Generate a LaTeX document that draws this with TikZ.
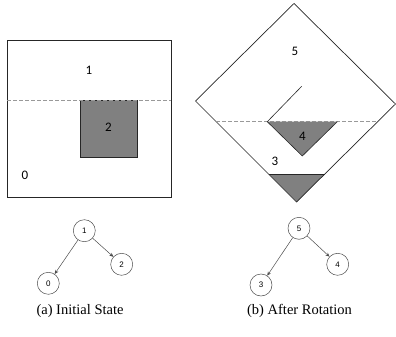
\documentclass[tikz,border=0pt]{standalone}
\usepackage{fontspec}
\setmainfont{Liberation Serif}
\newfontfamily\labfont{Carlito}
\newfontfamily\treefont{Liberation Sans}
\usetikzlibrary{arrows.meta}
\tikzset{
  region/.style={draw=black!85, line width=0.7pt},
  shade/.style={fill=black!50, draw=black!85, line width=0.6pt},
  cut/.style={draw=black!40, dash pattern=on 3.5pt off 2.5pt, line width=0.8pt},
  lab/.style={font=\labfont\fontsize{13}{13}\selectfont, inner sep=0pt},
  tnode/.style={circle, draw=black!70, line width=0.5pt, minimum size=22pt, inner sep=0pt, font=\treefont\fontsize{8}{8}\selectfont},
  tedge/.style={draw=black!70, line width=0.5pt, -{Stealth[length=4pt,width=3.5pt]}},
  captext/.style={font=\fontsize{14.5}{14.5}\selectfont, inner sep=0pt}
}
\begin{document}
\begin{tikzpicture}[x=1pt,y=-1pt]
\useasboundingbox (0,0) rectangle (396,337);
% ---- (a) initial state ----
\draw[region] (7,40) rectangle (171,197);
\draw[shade] (80,100) rectangle (137,157);
\draw[cut] (7,100) -- (171,100);
\node[lab] (l1) at (89,70) {1};
\node[lab] (l2) at (108.5,127) {2};
\node[lab] (l0) at (25,175) {0};
% ---- (b) after rotation ----
\coordinate (T) at (294,3.5);
\coordinate (R) at (395.5,104);
\coordinate (B) at (296.5,202);
\coordinate (L) at (195.5,101);
\fill[black!50] (268.5,174) -- (324.8,174) -- (B) -- cycle;
\draw[black!85, line width=0.5pt] (268.5,174) -- (324.8,174);
\draw[region] (T) -- (R) -- (B) -- (L) -- cycle;
\draw[cut] (216.2,121.7) -- (377.6,121.7);
\fill[black!50] (267.3,121.7) -- (337.3,121.7) -- (302.3,156) -- cycle;
\draw[black!85, line width=0.6pt] (301.7,86.3) -- (267.3,121.7) -- (302.3,156) -- (337.3,121.7);
\node[lab] (l5) at (295,51.7) {5};
\node[lab] (l4) at (302.5,136) {4};
\node[lab] (l3) at (275,161.7) {3};
% ---- trees ----
\node[tnode] (n1) at (84.3,230.7) {1};
\node[tnode] (n2) at (121.7,264.3) {2};
\node[tnode] (n0) at (48.3,283.3) {0};
\draw[tedge] (n1) -- (n0);
\draw[tedge] (n1) -- (n2);
\node[tnode] (n5) at (299,228.3) {5};
\node[tnode] (n4) at (337.7,264.3) {4};
\node[tnode] (n3) at (261,285) {3};
\draw[tedge] (n5) -- (n3);
\draw[tedge] (n5) -- (n4);
% ---- captions ----
\node[captext] (ca) at (80,311) {(a) Initial State};
\node[captext] (cb) at (299.5,311) {(b) After Rotation};
\end{tikzpicture}
\end{document}
